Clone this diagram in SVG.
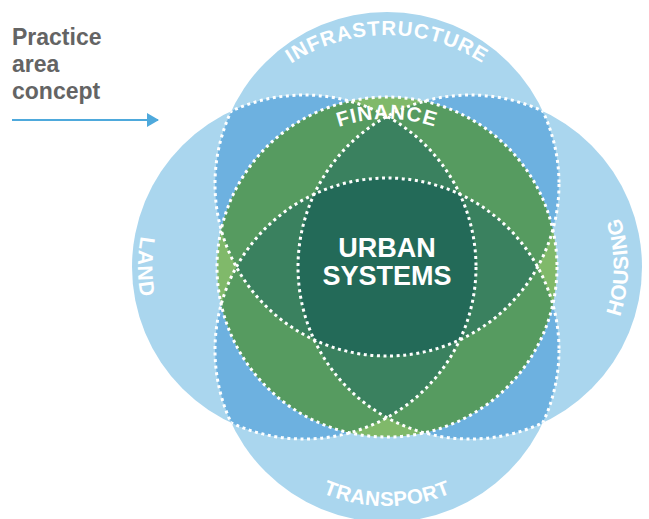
<svg xmlns="http://www.w3.org/2000/svg" xmlns:xlink="http://www.w3.org/1999/xlink" width="649" height="519" viewBox="0 0 649 519">
<style>
.petal{fill:#aad6ee}
.mb{fill:#6db1e0}
.lg{fill:#80b96a}
.mg{fill:#569b60}
.dg{fill:#3a815f}
.cg{fill:#236a58}
.dot{fill:none;stroke:#ffffff;stroke-width:3;stroke-dasharray:3 3.6}
.lbl{font-family:"Liberation Sans",Arial,sans-serif;font-weight:bold;fill:#ffffff}
.side{font-family:"Liberation Sans",Arial,sans-serif;font-weight:bold;fill:#646464;font-size:23px}
</style>
<defs>
<clipPath id="cT"><circle cx="387" cy="184" r="172"/></clipPath>
<clipPath id="cB"><circle cx="387" cy="350" r="172"/></clipPath>
<clipPath id="cL"><circle cx="304" cy="267" r="172"/></clipPath>
<clipPath id="cR"><circle cx="470" cy="267" r="172"/></clipPath>
<clipPath id="cG"><circle cx="387" cy="267" r="170"/></clipPath>
<clipPath id="uT"><circle cx="387" cy="350" r="172"/><circle cx="304" cy="267" r="172"/><circle cx="470" cy="267" r="172"/></clipPath>
<clipPath id="uB"><circle cx="387" cy="184" r="172"/><circle cx="304" cy="267" r="172"/><circle cx="470" cy="267" r="172"/></clipPath>
<clipPath id="uL"><circle cx="387" cy="184" r="172"/><circle cx="387" cy="350" r="172"/><circle cx="470" cy="267" r="172"/></clipPath>
<clipPath id="uR"><circle cx="387" cy="184" r="172"/><circle cx="387" cy="350" r="172"/><circle cx="304" cy="267" r="172"/></clipPath>
<path id="pInfra" d="M 212,210 A 175 175 0 0 1 562,210"/>
<path id="pFin" d="M 239,267 A 148 148 0 0 1 535,267"/>
<path id="pTrans" d="M 221,340 A 166 166 0 0 0 553,340"/>
<path id="pLand" d="M 304,101 A 166 166 0 0 0 304,433"/>
<path id="pHous" d="M 470,425 A 158 158 0 0 0 470,109"/>
<marker id="ah" viewBox="0 0 12 14" refX="11" refY="7" markerWidth="12" markerHeight="14" markerUnits="userSpaceOnUse" orient="auto"><path d="M0,0 L12,7 L0,14 Z" fill="#4ea9dc"/></marker>
</defs>

<g id="legend">
<text class="side" x="12" y="45">Practice</text>
<text class="side" x="12" y="72">area</text>
<text class="side" x="12" y="99">concept</text>
</g>

<g id="petal-infrastructure"><circle class="petal" cx="387" cy="184" r="172"/></g>
<g id="petal-transport"><circle class="petal" cx="387" cy="350" r="172"/></g>
<g id="petal-land"><circle class="petal" cx="304" cy="267" r="172"/></g>
<g id="petal-housing"><circle class="petal" cx="470" cy="267" r="172"/></g>

<g id="overlaps">
<g clip-path="url(#cT)"><circle class="mb" cx="304" cy="267" r="172"/><circle class="mb" cx="470" cy="267" r="172"/></g>
<g clip-path="url(#cB)"><circle class="mb" cx="304" cy="267" r="172"/><circle class="mb" cx="470" cy="267" r="172"/></g>
</g>

<g id="finance">
<circle class="lg" cx="387" cy="267" r="170"/>
<g clip-path="url(#cG)">
<g clip-path="url(#cT)"><circle class="mg" cx="304" cy="267" r="172"/><circle class="mg" cx="470" cy="267" r="172"/><circle class="mg" cx="387" cy="350" r="172"/></g>
<g clip-path="url(#cB)"><circle class="mg" cx="304" cy="267" r="172"/><circle class="mg" cx="470" cy="267" r="172"/></g>
<g clip-path="url(#cL)"><circle class="mg" cx="470" cy="267" r="172"/></g>
<g clip-path="url(#cT)">
<g clip-path="url(#cL)"><circle class="dg" cx="470" cy="267" r="172"/><circle class="dg" cx="387" cy="350" r="172"/></g>
<g clip-path="url(#cR)"><circle class="dg" cx="387" cy="350" r="172"/></g>
</g>
<g clip-path="url(#cB)"><g clip-path="url(#cL)"><circle class="dg" cx="470" cy="267" r="172"/></g></g>
</g>
</g>

<g id="urban-systems">
<g clip-path="url(#cT)"><g clip-path="url(#cL)"><g clip-path="url(#cR)"><circle class="cg" cx="387" cy="350" r="172"/></g></g></g>
</g>

<g id="outlines">
<circle class="dot" cx="387" cy="184" r="172" clip-path="url(#uT)"/>
<circle class="dot" cx="387" cy="350" r="172" clip-path="url(#uB)"/>
<circle class="dot" cx="304" cy="267" r="172" clip-path="url(#uL)"/>
<circle class="dot" cx="470" cy="267" r="172" clip-path="url(#uR)"/>
<circle class="dot" cx="387" cy="267" r="170"/>
</g>

<g id="labels">
<text class="lbl" font-size="20.5" letter-spacing="1"><textPath xlink:href="#pInfra" href="#pInfra" startOffset="50%" text-anchor="middle">INFRASTRUCTURE</textPath></text>
<text class="lbl" font-size="20.5" letter-spacing="1"><textPath xlink:href="#pFin" href="#pFin" startOffset="50%" text-anchor="middle">FINANCE</textPath></text>
<text class="lbl" font-size="20.5" letter-spacing="0.5"><textPath xlink:href="#pTrans" href="#pTrans" startOffset="50%" text-anchor="middle">TRANSPORT</textPath></text>
<text class="lbl" font-size="21" letter-spacing="1"><textPath xlink:href="#pLand" href="#pLand" startOffset="50%" text-anchor="middle">LAND</textPath></text>
<text class="lbl" font-size="21" letter-spacing="0.5"><textPath xlink:href="#pHous" href="#pHous" startOffset="50%" text-anchor="middle">HOUSING</textPath></text>
<text class="lbl" font-size="27" x="387" y="257" text-anchor="middle">URBAN</text>
<text class="lbl" font-size="27" x="387" y="285" text-anchor="middle">SYSTEMS</text>
</g>

<g id="connectors">
<line x1="12" y1="120" x2="158" y2="120" stroke="#4ea9dc" stroke-width="2" marker-end="url(#ah)"/>
</g>
</svg>
